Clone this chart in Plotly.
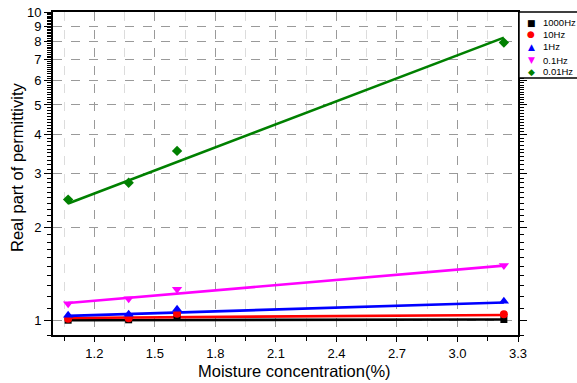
import numpy as np
import plotly.graph_objects as go

# Moisture concentration (%) of the four samples
moisture = [1.07, 1.37, 1.61, 3.23]

# Real part of permittivity at each measuring frequency
eps_1000hz = [1.005, 1.008, 1.03, 1.01]
eps_10hz = [1.015, 1.02, 1.055, 1.05]
eps_1hz = [1.043, 1.05, 1.09, 1.158]
eps_01hz = [1.137, 1.18, 1.266, 1.51]
eps_001hz = [2.47, 2.80, 3.55, 7.96]

# Fitted trend values at the first and last moisture level
fit_1000hz = [1.005, 1.01]
fit_10hz = [1.022, 1.045]
fit_1hz = [1.038, 1.147]
fit_01hz = [1.143, 1.51]
fit_001hz = [2.40, 8.26]

names = ["1000Hz", "10Hz", "1Hz", "0.1Hz", "0.01Hz"]
colors = ["#000000", "#ff0000", "#0000ff", "#ff00ff", "#008000"]
symbols = ["square", "circle", "triangle-up", "triangle-down", "diamond"]
sizes = [7, 8, 9, 9, 8]
glyphs = ["\u25A0", "\u25CF", "\u25B2", "\u25BC", "\u25C6"]
series = [eps_1000hz, eps_10hz, eps_1hz, eps_01hz, eps_001hz]
fits = [fit_1000hz, fit_10hz, fit_1hz, fit_01hz, fit_001hz]

y_major = [1, 2, 3, 4, 5, 6, 7, 8, 9, 10]
y_minor = [round(v, 1) for v in np.arange(0.9, 10.01, 0.1) if abs(v - round(v)) > 1e-6]

FONT = "Arial, Liberation Sans, sans-serif"

fig = go.Figure()

# trend lines
for name, col, fit in zip(names, colors, fits):
    fig.add_trace(go.Scatter(
        x=[moisture[0], moisture[-1]], y=fit, mode="lines",
        line=dict(color=col, width=2.6), showlegend=False, hoverinfo="skip"))

# measured points
for name, col, sym, sz, ys in zip(names, colors, symbols, sizes, series):
    fig.add_trace(go.Scatter(
        x=moisture, y=ys, mode="markers", name=name,
        marker=dict(color=col, symbol=sym, size=sz, line=dict(width=0)),
        showlegend=False, cliponaxis=False))

L, R, T, B = 53, 59, 12, 48
W, H = 577, 383
pw, ph = W - L - R, H - T - B


def px_x(p):
    return (p - L) / pw


def px_y(p):
    return (H - B - p) / ph


annotations = [
    dict(text="Moisture concentration(%)", x=px_x(294), y=px_y(371),
         xref="paper", yref="paper", showarrow=False, xanchor="center", yanchor="middle",
         font=dict(family=FONT, size=16.5, color="black")),
    dict(text="Real part of permittivity", x=px_x(17), y=px_y(168),
         xref="paper", yref="paper", showarrow=False, xanchor="center", yanchor="middle",
         textangle=-90, font=dict(family=FONT, size=16.5, color="black")),
]

shapes = [
    dict(type="rect", xref="paper", yref="paper",
         x0=px_x(519), x1=px_x(600), y0=px_y(78), y1=px_y(12),
         line=dict(color="black", width=1.5), fillcolor="white", layer="above"),
]

# legend entries
legend_rows = [22.7, 34.3, 46.7, 60.0, 71.7]
for name, col, g, yp in zip(names, colors, glyphs, legend_rows):
    annotations.append(dict(text=g, x=px_x(531), y=px_y(yp), xref="paper", yref="paper",
                            showarrow=False, xanchor="center", yanchor="middle",
                            font=dict(family="DejaVu Sans", size=9, color=col)))
    annotations.append(dict(text=name, x=px_x(541), y=px_y(yp), xref="paper", yref="paper",
                            showarrow=False, xanchor="left", yanchor="middle",
                            font=dict(family=FONT, size=9.5, color="black")))

fig.update_layout(
    width=W, height=H,
    margin=dict(l=L, r=R, t=T, b=B, autoexpand=False),
    paper_bgcolor="white", plot_bgcolor="white",
    font=dict(family=FONT, size=12, color="black"),
    annotations=annotations, shapes=shapes,
    xaxis=dict(
        range=[0.995, 3.3], tick0=0.9, dtick=0.3, tickformat=".1f",
        showline=True, linecolor="black", linewidth=2, mirror=True,
        ticks="outside", ticklen=5, tickwidth=1, tickcolor="black",
        showgrid=True, gridcolor="#9a9a9a", griddash="dash", gridwidth=1,
        zeroline=False, tickfont=dict(family=FONT, size=13),
        minor=dict(tick0=1.05, dtick=0.15, ticks="outside", ticklen=4, tickcolor="black",
                   showgrid=True, gridcolor="#dcdcdc", gridwidth=1),
    ),
    yaxis=dict(
        type="log", range=[np.log10(0.9), 1.0],
        tickmode="array", tickvals=y_major, ticktext=[str(v) for v in y_major],
        showline=True, linecolor="black", linewidth=2, mirror="allticks",
        ticks="outside", ticklen=7, tickwidth=1, tickcolor="black",
        showgrid=True, gridcolor="#9a9a9a", griddash="dash", gridwidth=1,
        zeroline=False, tickfont=dict(family=FONT, size=13),
        minor=dict(tickmode="array", tickvals=y_minor, ticks="outside", ticklen=4,
                   tickcolor="black", showgrid=False),
    ),
)

fig.write_html("out.html")
